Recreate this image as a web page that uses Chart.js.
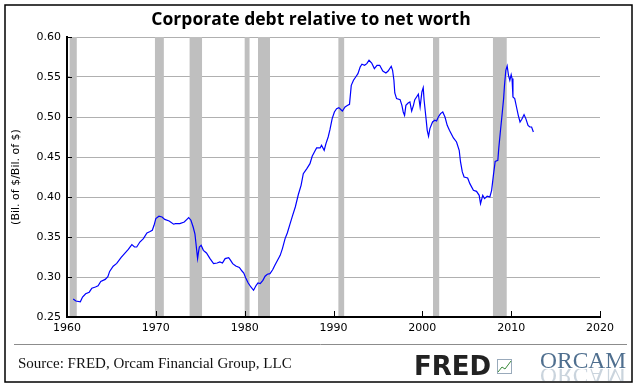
<!DOCTYPE html>
<html>
<head>
<meta charset="utf-8">
<script src="https://cdn.jsdelivr.net/npm/chart.js@4.4.0/dist/chart.umd.min.js"></script>
<style>
  html, body { margin: 0; padding: 0; background: #fff; }
  #wrap { width: 637px; height: 388px; }
</style>
</head>
<body>
<div id="wrap"><canvas id="debtChart" width="637" height="388"></canvas></div>
<script>
// quarterly-ish readings of the FRED series (Bil. of $ / Bil. of $)
const years = [
  1960.7, 1961.0, 1961.5, 1961.75, 1962.1, 1962.5, 1962.8, 1963.2, 1963.5, 1963.8,
  1964.3, 1964.6, 1964.8, 1965.2, 1965.6, 1966.1, 1966.5, 1966.9, 1967.3, 1967.6,
  1967.85, 1968.2, 1968.6, 1969.0, 1969.3, 1969.6, 1969.8, 1970.0, 1970.35, 1970.7,
  1971.0, 1971.5, 1972.0, 1972.2, 1972.7, 1973.2, 1973.5, 1973.7, 1973.95, 1974.2,
  1974.4, 1974.5, 1974.7, 1974.8, 1974.9, 1975.1, 1975.35, 1975.7, 1976.1, 1976.5,
  1976.9, 1977.2, 1977.5, 1977.8, 1978.2, 1978.4, 1978.65, 1979.0, 1979.4, 1979.7,
  1979.9, 1980.15, 1980.4, 1980.7, 1981.0, 1981.3, 1981.5, 1981.75, 1982.05, 1982.3,
  1982.55, 1982.85, 1983.15, 1983.4, 1983.7, 1984.0, 1984.25, 1984.55, 1984.8, 1985.1,
  1985.4, 1985.7, 1986.05, 1986.35, 1986.6, 1987.0, 1987.35, 1987.6, 1987.85, 1988.1,
  1988.5, 1988.65, 1988.95, 1989.15, 1989.4, 1989.6, 1989.85, 1990.1, 1990.35, 1990.6,
  1990.85, 1991.0, 1991.3, 1991.6, 1991.8, 1992.0, 1992.25, 1992.5, 1992.75, 1993.0,
  1993.2, 1993.5, 1993.75, 1994.0, 1994.3, 1994.6, 1994.9, 1995.2, 1995.55, 1995.9,
  1996.15, 1996.5, 1996.65, 1996.8, 1996.9, 1997.1, 1997.5, 1997.7, 1997.85, 1998.0,
  1998.15, 1998.4, 1998.6, 1998.8, 1999.0, 1999.15, 1999.35, 1999.55, 1999.75, 1999.95,
  2000.1, 2000.2, 2000.4, 2000.55, 2000.7, 2000.85, 2001.15, 2001.4, 2001.6, 2001.8,
  2002.05, 2002.3, 2002.55, 2002.8, 2003.05, 2003.5, 2003.85, 2004.15, 2004.3, 2004.5,
  2004.7, 2005.1, 2005.35, 2005.75, 2006.1, 2006.4, 2006.55, 2006.8, 2007.0, 2007.3,
  2007.6, 2007.8, 2008.0, 2008.2, 2008.5, 2008.6, 2008.8, 2008.95, 2009.15, 2009.25,
  2009.4, 2009.55, 2009.7, 2009.85, 2010.0, 2010.1, 2010.2, 2010.4, 2010.6, 2010.8,
  2011.0, 2011.2, 2011.45, 2011.65, 2011.9, 2012.1, 2012.3, 2012.5
];
const debtToNetWorth = [
  0.2725, 0.270, 0.269, 0.275, 0.279, 0.281, 0.286, 0.2875, 0.289, 0.2945,
  0.297, 0.3005, 0.307, 0.3135, 0.317, 0.3245, 0.3295, 0.3345, 0.3405, 0.3375,
  0.3375, 0.3437, 0.348, 0.355, 0.3565, 0.3584, 0.3646, 0.373, 0.376, 0.375,
  0.372, 0.370, 0.366, 0.3667, 0.3667, 0.3688, 0.372, 0.3742, 0.371, 0.3625,
  0.354, 0.3437, 0.323, 0.331, 0.3375, 0.3396, 0.3333, 0.330, 0.323, 0.3167,
  0.3175, 0.3188, 0.3175, 0.323, 0.3242, 0.321, 0.3167, 0.3137, 0.312, 0.3075,
  0.305, 0.298, 0.2925, 0.2875, 0.2834, 0.2896, 0.2925, 0.2917, 0.2958, 0.301,
  0.3034, 0.3042, 0.309, 0.3146, 0.321, 0.3271, 0.3355, 0.348, 0.355, 0.366,
  0.3771, 0.3875, 0.4034, 0.4146, 0.4292, 0.4355, 0.4417, 0.4509, 0.4563, 0.4613,
  0.4613, 0.4646, 0.4584, 0.4667, 0.475, 0.4842, 0.498, 0.5063, 0.5104, 0.5117,
  0.509, 0.5075, 0.5125, 0.5146, 0.5159, 0.5396, 0.5459, 0.550, 0.5542, 0.5625,
  0.5659, 0.5646, 0.5667, 0.5709, 0.5675, 0.5605, 0.5646, 0.5646, 0.5575, 0.555,
  0.5575, 0.5634, 0.5584, 0.5459, 0.530, 0.523, 0.5217, 0.5146, 0.5063, 0.5021,
  0.5146, 0.5175, 0.5188, 0.5075, 0.5146, 0.5217, 0.525, 0.5284, 0.5125, 0.5313,
  0.5367, 0.5209, 0.500, 0.4834, 0.4759, 0.4855, 0.4938, 0.4959, 0.495, 0.500,
  0.5042, 0.5063, 0.500, 0.4896, 0.4834, 0.4738, 0.4688, 0.4584, 0.4438, 0.4313,
  0.425, 0.4238, 0.4167, 0.4084, 0.4071, 0.4021, 0.3917, 0.4021, 0.398, 0.4009,
  0.400, 0.4084, 0.427, 0.4446, 0.4459, 0.4605, 0.4834, 0.500, 0.523, 0.5396,
  0.5584, 0.5638, 0.5521, 0.5459, 0.553, 0.548, 0.525, 0.523, 0.5125, 0.5021,
  0.4938, 0.4971, 0.503, 0.498, 0.4896, 0.4875, 0.4875, 0.4813
];
// NBER recessions (shaded)
const recessionStarts = [1960.3, 1969.9, 1973.8, 1980.0, 1981.5, 1990.55, 2001.2, 2007.95];
const recessionEnds   = [1961.1, 1970.9, 1975.2, 1980.55, 1982.85, 1991.2, 2001.9, 2009.5];

const chartTitle = "Corporate debt relative to net worth";
const yAxisTitle = "(Bil. of $/Bil. of $)";
const sourceNote = "Source: FRED, Orcam Financial Group, LLC";

const fredDecor = {
  id: "fredDecor",
  beforeDraw(chart) {
    const ctx = chart.ctx;
    ctx.save();
    ctx.fillStyle = "#fff";
    ctx.fillRect(0, 0, chart.width, chart.height);
    ctx.restore();
  },
  beforeDatasetsDraw(chart) {
    const { ctx, chartArea, scales } = chart;
    ctx.save();
    ctx.fillStyle = "#bfbfbf";
    recessionStarts.forEach((s, i) => {
      const x0 = scales.x.getPixelForValue(s);
      const x1 = scales.x.getPixelForValue(recessionEnds[i]);
      ctx.fillRect(x0, chartArea.top, x1 - x0, chartArea.bottom - chartArea.top - 1);
    });
    ctx.restore();
  },
  afterDraw(chart) {
    const { ctx, chartArea, scales } = chart;
    ctx.save();

    // inward tick marks
    ctx.strokeStyle = "#000";
    ctx.lineWidth = 1;
    ctx.beginPath();
    scales.y.ticks.forEach((t) => {
      const y = Math.round(scales.y.getPixelForValue(t.value)) + 0.5;
      ctx.moveTo(chartArea.left, y);
      ctx.lineTo(chartArea.left + 5, y);
    });
    scales.x.ticks.forEach((t) => {
      const x = Math.round(scales.x.getPixelForValue(t.value)) + 0.5;
      ctx.moveTo(x, chartArea.bottom);
      ctx.lineTo(x, chartArea.bottom - 6);
    });
    ctx.stroke();

    // title
    ctx.fillStyle = "#000";
    ctx.font = "bold 17.5px 'Open Sans'";
    ctx.textAlign = "center";
    ctx.textBaseline = "middle";
    ctx.fillText(chartTitle, 311, 20);

    // separator + source
    ctx.strokeStyle = "#8c8c8c";
    ctx.beginPath();
    ctx.moveTo(14, 344.5);
    ctx.lineTo(627, 344.5);
    ctx.stroke();

    ctx.textAlign = "left";
    ctx.textBaseline = "alphabetic";
    ctx.fillStyle = "#111";
    ctx.font = "15px 'Liberation Serif'";
    ctx.fillText(sourceNote, 18, 368);

    // FRED mark
    ctx.fillStyle = "#222";
    ctx.font = "bold 26px 'DejaVu Sans'";
    ctx.fillText("FRED", 414, 375);
    ctx.strokeStyle = "#9ab";
    ctx.strokeRect(497.5, 359.5, 14, 14);
    ctx.strokeStyle = "#3a8a3a";
    ctx.beginPath();
    ctx.moveTo(498, 372); ctx.lineTo(502, 367); ctx.lineTo(505, 369); ctx.lineTo(511, 361);
    ctx.stroke();

    // ORCAM mark with faded reflection
    ctx.fillStyle = "#4f6f8f";
    ctx.font = "23.5px 'Liberation Serif'";
    ctx.fillText("ORCAM", 540, 368);
    ctx.save();
    ctx.beginPath();
    ctx.rect(540, 369, 90, 12);
    ctx.clip();
    ctx.translate(0, 736);
    ctx.scale(1, -1);
    ctx.globalAlpha = 0.3;
    ctx.fillText("ORCAM", 540, 368);
    ctx.restore();

    // outer frame
    ctx.strokeStyle = "#000";
    ctx.lineWidth = 1.5;
    ctx.strokeRect(5, 5, 627, 377);
    ctx.restore();
  }
};

const ctx = document.getElementById("debtChart").getContext("2d");
new Chart(ctx, {
  type: "line",
  data: {
    datasets: [
      {
        data: years.map((yr, i) => ({ x: yr, y: debtToNetWorth[i] })),
        borderColor: "#0000ff",
        borderWidth: 1.2,
        pointRadius: 0,
        tension: 0,
        fill: false,
      },
    ],
  },
  options: {
    responsive: false,
    animation: false,
    layout: { padding: { left: 0, right: 37, top: 37, bottom: 0 } },
    plugins: {
      legend: { display: false },
      tooltip: { enabled: false },
    },
    scales: {
      x: {
        type: "linear",
        min: 1960,
        max: 2020,
        afterFit: (scale) => { scale.height = 71; },
        ticks: {
          stepSize: 10,
          padding: 5,
          color: "#000",
          font: { family: "DejaVu Sans", size: 11 },
          callback: (v) => String(v),
        },
        grid: { display: false, drawTicks: false },
        border: { color: "#000", width: 2 },
      },
      y: {
        min: 0.25,
        max: 0.6,
        afterFit: (scale) => { scale.width = 67; },
        ticks: {
          stepSize: 0.05,
          padding: 6,
          color: "#000",
          font: { family: "DejaVu Sans", size: 11 },
          callback: (v) => v.toFixed(2),
        },
        grid: { color: "#b0b0b0", lineWidth: 1, drawTicks: false },
        border: { color: "#000", width: 2 },
        title: {
          display: true,
          text: yAxisTitle,
          color: "#000",
          font: { family: "DejaVu Sans", size: 11 },
          padding: { top: 10, bottom: 0 },
        },
      },
    },
  },
  plugins: [fredDecor],
});
</script>
</body>
</html>
